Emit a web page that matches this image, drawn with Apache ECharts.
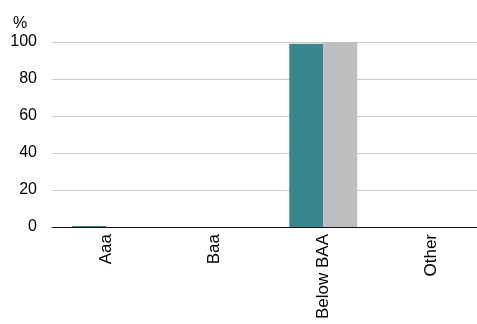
<!DOCTYPE html>
<html>
<head>
<meta charset="utf-8">
<script src="https://cdn.jsdelivr.net/npm/echarts@6/dist/echarts.min.js"></script>
<style>html,body{margin:0;padding:0;background:#fff;overflow:hidden}#c{width:486px;height:324px}</style>
</head>
<body>
<div id="c"></div>
<script>
var categories = ['Aaa', 'Baa', 'Below BAA', 'Other'];
var seriesA = [0.5, 0, 99, 0];
var seriesB = [0, 0, 100, 0];
var yTicks = [0, 20, 40, 60, 80, 100];

var chart = echarts.init(document.getElementById('c'), null, {renderer: 'canvas'});
var font = 'Liberation Sans, Arial, Helvetica, sans-serif';
chart.setOption({
  animation: false,
  title: {
    text: '%', left: 8, top: 11,
    textStyle: {fontFamily: font, fontSize: 16, fontWeight: 'normal', color: '#000'}
  },
  grid: {left: 52, right: 0, top: 42, bottom: 97, containLabel: false},
  xAxis: {
    type: 'category',
    data: categories,
    axisLine: {lineStyle: {color: '#111', width: 1}},
    axisTick: {show: false},
    axisLabel: {rotate: 90, margin: 7, fontFamily: font, fontSize: 17, color: '#000', interval: 0}
  },
  yAxis: {
    type: 'value',
    min: yTicks[0], max: yTicks[yTicks.length - 1], interval: 20,
    axisLine: {show: false},
    axisTick: {show: false},
    axisLabel: {margin: 15, padding: [4, 0, 0, 0], fontFamily: font, fontSize: 16, color: '#000'},
    splitLine: {lineStyle: {color: '#cccccc', width: 1}}
  },
  series: [
    {type: 'bar', data: seriesA, barWidth: 34, barGap: '0%', itemStyle: {color: '#3a868f'}},
    {type: 'bar', data: seriesB, barWidth: 34, barGap: '0%', itemStyle: {color: '#bdbec0'}}
  ]
});
</script>
</body>
</html>
